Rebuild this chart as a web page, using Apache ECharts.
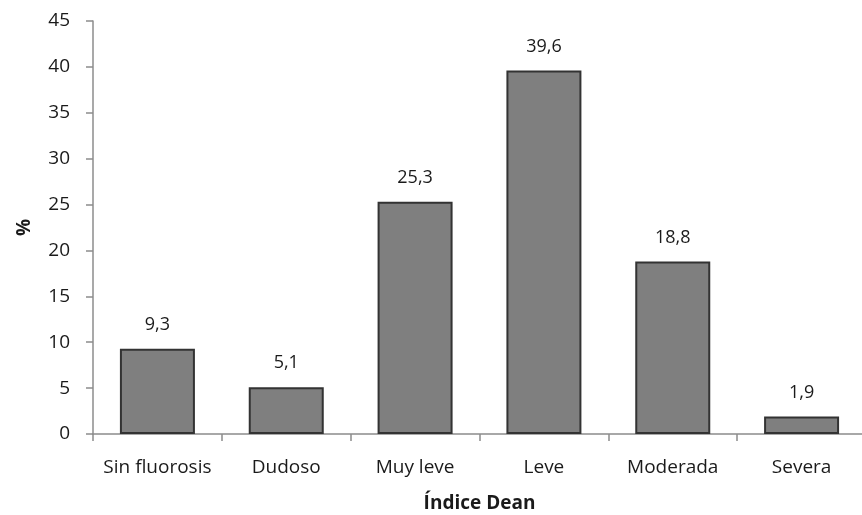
<!DOCTYPE html>
<html>
<head>
<meta charset="utf-8">
<script src="https://cdn.jsdelivr.net/npm/echarts@6/dist/echarts.min.js"></script>
<style>
  html, body { margin: 0; padding: 0; background: #fff; }
  #chart { width: 862px; height: 515px; }
</style>
</head>
<body>
<div id="chart"></div>
<script>
// Distribución según el índice de Dean (%)
const categories = ['Sin fluorosis', 'Dudoso', 'Muy leve', 'Leve', 'Moderada', 'Severa'];
const percentages = [9.3, 5.1, 25.3, 39.6, 18.8, 1.9];
const yTicks = { min: 0, max: 45, interval: 5 };

const font = 'Open Sans, Liberation Sans, sans-serif';
const textColor = '#1a1a1a';
const axisColor = '#8c8c8c';
const chart = echarts.init(document.getElementById('chart'), null, { renderer: 'canvas' });

chart.setOption({
  animation: false,
  backgroundColor: '#ffffff',
  grid: { left: 93, right: -4, top: 21, bottom: 81, containLabel: false, outerBoundsMode: 'none' },
  xAxis: {
    type: 'category',
    data: categories,
    name: 'Índice Dean',
    nameLocation: 'middle',
    nameGap: 60,
    nameTextStyle: { fontFamily: font, fontSize: 19, fontWeight: 'bold', color: textColor },
    axisLine: { lineStyle: { color: axisColor, width: 1.5 } },
    axisTick: { show: true, alignWithLabel: false, length: 7, lineStyle: { color: axisColor, width: 1.5 } },
    axisLabel: { fontFamily: font, fontSize: 19, color: textColor, margin: 24, interval: 0, hideOverlap: false }
  },
  yAxis: {
    type: 'value',
    min: yTicks.min,
    max: yTicks.max,
    interval: yTicks.interval,
    name: '%',
    nameLocation: 'middle',
    nameGap: 59,
    nameRotate: 90,
    nameTextStyle: { fontFamily: font, fontSize: 19, fontWeight: 'bold', color: textColor },
    axisLine: { show: true, lineStyle: { color: axisColor, width: 1.5 } },
    axisTick: { show: true, length: 7, lineStyle: { color: axisColor, width: 1.5 } },
    axisLabel: { fontFamily: font, fontSize: 19, color: textColor, margin: 23 },
    splitLine: { show: false }
  },
  series: [{
    type: 'bar',
    data: percentages,
    barWidth: 75,
    itemStyle: { color: '#7f7f7f', borderColor: '#333333', borderWidth: 2 },
    label: {
      show: true,
      position: 'top',
      distance: 15,
      fontFamily: font,
      fontSize: 18,
      color: textColor,
      formatter: p => String(p.value).replace('.', ',')
    }
  }]
});
</script>
</body>
</html>
